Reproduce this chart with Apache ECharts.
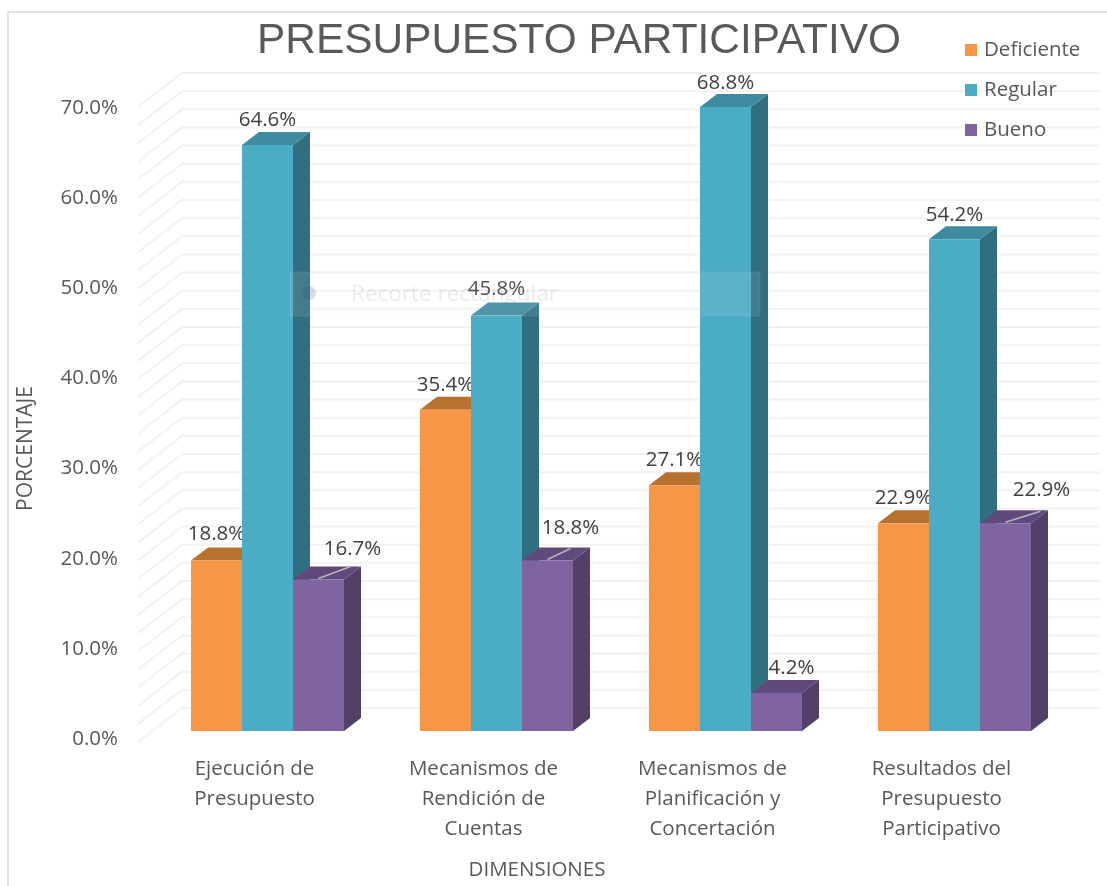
<!DOCTYPE html>
<html><head><meta charset="utf-8">
<style>html,body{margin:0;padding:0;background:#fff}#c{width:1107px;height:886px}</style>
<script src="https://cdn.jsdelivr.net/npm/echarts@6/dist/echarts.min.js"></script>
</head><body><div id="c"></div>
<script>
const categories = ['Ejecución de\nPresupuesto','Mecanismos de\nRendición de\nCuentas','Mecanismos de\nPlanificación y\nConcertación','Resultados del\nPresupuesto\nParticipativo'];
const deficiente = [18.8, 35.4, 27.1, 22.9];
const regular = [64.6, 45.8, 68.8, 54.2];
const bueno = [16.7, 18.8, 4.2, 22.9];
const gridValues = [0,2,4,6,8,10,12,14,16,18,20,22,24,26,28,30,32,34,36,38,40,42,44,46,48,50,52,54,56,58,60,62,64,66,68,70];
const yTicks = [0,10,20,30,40,50,60,70];

const font = 'Open Sans';
const textColor = '#595959';
const DX = 17, DY = -13, BAR_RATIO = 51/229;
const styles = [
  {name:'Deficiente', front:'#F79646', top:'#B8722F', side:'#A8602A', values:deficiente,
   lab:[[0,-26],[0,-25],[0,-25],[0,-25]], lead:[null,null,null,null]},
  {name:'Regular', front:'#4BACC6', top:'#3E8AA0', side:'#316F80', values:regular,
   lab:[[0,-25],[0,-26],[0,-24],[0,-24]], lead:[null,null,null,null]},
  {name:'Bueno', front:'#8064A2', top:'#60497D', side:'#543F69', values:bueno,
   lab:[[34,-30],[23,-32],[15,-25],[36,-33]], lead:[[32,-13],[23,-12],null,[35,-12]]}
];

function gridSeries(){
  return {type:'custom', silent:true, clip:false, xAxisIndex:0, yAxisIndex:0, z:1,
    data:gridValues.map(v=>[0,v]), encode:{x:0,y:1},
    renderItem(params, api){
      const y = api.coord([0, api.value(1)])[1];
      const r = params.coordSys;
      const s = {stroke:'#F2F2F2', lineWidth:2, fill:null};
      return {type:'group', children:[
        {type:'polyline', shape:{points:[[r.x-15,y+11],[r.x+29,y-23],[r.x+r.width+31,y-23]]}, style:s}
      ]};
    }};
}
function barSeries(st, si){
  return {type:'custom', name:st.name, clip:false, xAxisIndex:0, yAxisIndex:0, z:2+si,
    itemStyle:{color:st.front},
    data:st.values.map((v,i)=>[i,v]), encode:{x:0,y:1},
    renderItem(params, api){
      const i = api.value(0), v = api.value(1);
      const top = api.coord([i,v]), base = api.coord([i,0]);
      const band = api.size([1,0])[0], w = band*BAR_RATIO;
      const x0 = top[0] + (si-1.5)*w, x1 = x0+w, yt = top[1], yb = base[1];
      const cx = (x0+x1)/2, off = st.lab[i], lead = st.lead[i];
      const children = [
        {type:'polygon', shape:{points:[[x1,yb],[x1+DX,yb+DY],[x1+DX,yt+DY],[x1,yt]]}, style:{fill:st.side}},
        {type:'polygon', shape:{points:[[x0,yt],[x1,yt],[x1+DX,yt+DY],[x0+DX,yt+DY]]}, style:{fill:st.top}},
        {type:'rect', shape:{x:x0,y:yt,width:w,height:yb-yt}, style:{fill:st.front}}
      ];
      if(lead) children.push({type:'line', shape:{x1:cx,y1:yt-1,x2:cx+lead[0],y2:yt+lead[1]}, style:{stroke:'#B8B4BC',lineWidth:1.5}});
      children.push({type:'text', z2:50, style:{x:cx+off[0], y:yt+off[1], text:v.toFixed(1)+'%', fill:'#404040',
        font:'20.5px "'+font+'"', align:'center', verticalAlign:'middle'}});
      return {type:'group', children};
    }};
}

const chart = echarts.init(document.getElementById('c'), null, {renderer:'canvas'});
chart.setOption({
  animation:false,
  backgroundColor:'#fff',
  textStyle:{fontFamily:font},
  title:{text:'PRESUPUESTO PARTICIPATIVO', left:574, top:15, textAlign:'center',
    textStyle:{fontFamily:'Liberation Sans', fontSize:42.4, fontWeight:'normal', color:textColor}},
  legend:{data:styles.map(s=>s.name), orient:'vertical', left:960, top:32, itemWidth:12, itemHeight:12, itemGap:14, icon:'rect',
    textStyle:{fontFamily:font, fontSize:20.5, color:textColor, lineHeight:26, padding:[0,0,0,2]}, selectedMode:false},
  grid:[
    {left:153, top:96, width:916, height:635},
    {left:140, top:108, width:916, height:635}
  ],
  xAxis:[
    {type:'category', gridIndex:0, data:categories, show:false},
    {type:'category', gridIndex:1, data:categories, axisLine:{show:false}, axisTick:{show:false},
      name:'DIMENSIONES', nameLocation:'middle', nameGap:121,
      nameTextStyle:{fontFamily:font,fontSize:20.5,color:textColor,padding:[0,122,0,0]},
      axisLabel:{fontFamily:font,fontSize:20.5,color:textColor,lineHeight:30,margin:15,interval:0}}
  ],
  yAxis:[
    {type:'value', gridIndex:0, min:0, max:70, show:false},
    {type:'value', gridIndex:1, min:0, max:70, interval:10, splitLine:{show:false}, axisLine:{show:false}, axisTick:{show:false},
      name:'PORCENTAJE', nameLocation:'middle', nameRotate:90, nameGap:103,
      nameTextStyle:{fontFamily:font,fontSize:21,color:textColor,padding:[0,50,0,0]},
      axisLabel:{fontFamily:font,fontSize:20.5,color:textColor,margin:22,
        customValues:yTicks, formatter:v=>v.toFixed(1)+'%'}}
  ],
  graphic:[
    {type:'polyline', z:0, silent:true, shape:{points:[[8,886],[8,12],[1107,12]]}, style:{stroke:'#E2E2E2',lineWidth:2,fill:null}},
    {type:'rect', z:100, silent:true, shape:{x:290,y:272,width:470,height:44}, style:{fill:'rgba(255,255,255,0.09)',stroke:'rgba(200,205,215,0.12)'}},
    {type:'circle', z:101, silent:true, shape:{cx:309,cy:293,r:7}, style:{fill:'rgba(40,70,110,0.18)'}},
    {type:'text', z:101, silent:true, style:{x:351,y:295,text:'Recorte rectangular',font:'22.5px "'+font+'"',fill:'rgba(120,110,110,0.14)',verticalAlign:'middle'}}
  ],
  series:[gridSeries()].concat(styles.map(barSeries))
});
</script></body></html>
